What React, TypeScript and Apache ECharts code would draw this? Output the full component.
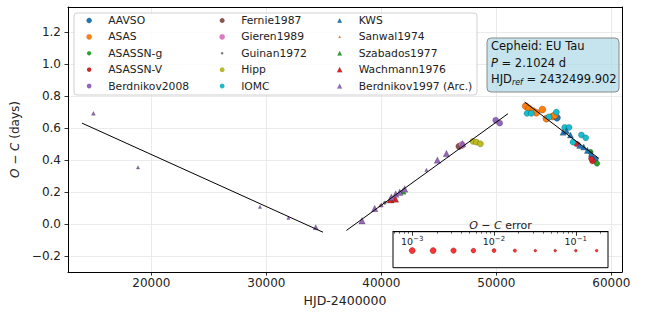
import React, { useEffect, useRef } from "react";
import * as echarts from "echarts";

// ---- axis ticks ----
const xTicks = [20000, 30000, 40000, 50000, 60000];
const yTicks = [-0.2, 0, 0.2, 0.4, 0.6, 0.8, 1.0, 1.2];
const errLegendValues = [0.001, 0.0018, 0.0032, 0.0056, 0.01, 0.018, 0.032, 0.056, 0.1, 0.18];
const errMajorTicks = [-3, -2, -1];

// ---- data: [HJD-2400000, O-C (days), O-C error (days)] ----
const aavso = [[55271, 0.666, 0.002], [58550, 0.403, 0.002]];
const asas = [[52550, 0.738, 0.002], [52837, 0.723, 0.002], [53184, 0.708, 0.002], [53480, 0.697, 0.002], [54002, 0.717, 0.002], [54350, 0.66, 0.002], [54871, 0.673, 0.002], [55071, 0.681, 0.002]];
const asassnG = [[58176, 0.452, 0.006], [58750, 0.38, 0.006]];
const asassnV = [[56958, 0.503, 0.005], [58350, 0.395, 0.005], [58263, 0.411, 0.005]];
const berdnikov2008 = [[49941, 0.65, 0.004], [50289, 0.632, 0.004]];
const fernie1987 = [[46749, 0.487, 0.003]];
const gieren1989 = [[47000, 0.495, 0.002]];
const guinan1972 = [[40300, 0.135, 0.05]];
const hipp = [[47967, 0.518, 0.004], [48263, 0.513, 0.004], [48610, 0.503, 0.004]];
const iomc = [[52663, 0.693, 0.004], [53045, 0.693, 0.004], [54576, 0.671, 0.004], [55219, 0.701, 0.004], [55941, 0.605, 0.004], [56315, 0.605, 0.004], [56663, 0.513, 0.004], [57393, 0.558, 0.004], [57767, 0.54, 0.004]];
const kws = [[55793, 0.575, 0.004], [56089, 0.585, 0.004], [56437, 0.558, 0.004], [57245, 0.493, 0.004], [57593, 0.483, 0.004], [57915, 0.462, 0.004], [58263, 0.442, 0.004]];
const sanwal1974 = [[39900, 0.118, 0.05]];
const szabados1977 = [[41879, 0.207, 0.004]];
const wachmann1976 = [[40800, 0.155, 0.002], [41200, 0.16, 0.002]];
const berdnikov1997 = [[14957, 0.693, 0.02], [18835, 0.356, 0.05], [29444, 0.109, 0.05], [31914, 0.041, 0.05], [34288, -0.018, 0.008], [38314, 0.023, 0.003], [39419, 0.099, 0.003], [40001, 0.121, 0.02], [40871, 0.17, 0.003], [41245, 0.189, 0.003], [41593, 0.201, 0.003], [42027, 0.221, 0.003], [43914, 0.34, 0.03], [44871, 0.401, 0.003], [45654, 0.442, 0.003], [47045, 0.503, 0.003]];

// ---- linear fits (three segments) ----
const fitStartHJD = [13965, 36957, 52461];
const fitEndHJD = [34922, 51009, 58922];
const fitStartOC = [0.632, -0.038, 0.763];
const fitEndOC = [-0.049, 0.691, 0.411];

// ---- info ----
const starName = "EU Tau";
const periodDays = "2.1024";
const hjdRef = "2432499.902";

const FONT = "'DejaVu Sans', sans-serif";
const TXT = "#222";

const sources = [
  { name: "AAVSO", data: aavso, symbol: "circle", color: "#1f77b4" },
  { name: "ASAS", data: asas, symbol: "circle", color: "#ff7f0e" },
  { name: "ASASSN-g", data: asassnG, symbol: "circle", color: "#2ca02c" },
  { name: "ASASSN-V", data: asassnV, symbol: "circle", color: "#d62728" },
  { name: "Berdnikov2008", data: berdnikov2008, symbol: "circle", color: "#9467bd" },
  { name: "Fernie1987", data: fernie1987, symbol: "circle", color: "#8c564b" },
  { name: "Gieren1989", data: gieren1989, symbol: "circle", color: "#e377c2" },
  { name: "Guinan1972", data: guinan1972, symbol: "circle", color: "#7f7f7f" },
  { name: "Hipp", data: hipp, symbol: "circle", color: "#bcbd22" },
  { name: "IOMC", data: iomc, symbol: "circle", color: "#17becf" },
  { name: "KWS", data: kws, symbol: "triangle", color: "#1f77b4" },
  { name: "Sanwal1974", data: sanwal1974, symbol: "triangle", color: "#ff7f0e" },
  { name: "Szabados1977", data: szabados1977, symbol: "triangle", color: "#2ca02c" },
  { name: "Wachmann1976", data: wachmann1976, symbol: "triangle", color: "#d62728" },
  { name: "Berdnikov1997 (Arc.)", data: berdnikov1997, symbol: "triangle", color: "#9467bd" },
];

const sz = (e: number) => Math.max(2.7, Math.min(6, 6 - 2.64 * (Math.log10(e) + 2.75)));
const median = (arr: number[][]) => {
  const s = arr.map((d) => d[2]).sort((a, b) => a - b);
  return s[Math.floor(s.length / 2)];
};

const minorTicks: number[] = [];
[-4, -3, -2, -1].forEach((p) => {
  for (let k = 2; k <= 9; k++) {
    const v = p + Math.log10(k);
    if (v > -3.235 && v < -0.606) minorTicks.push(v);
  }
});

export default function App() {
  const ref = useRef<HTMLDivElement>(null);
  useEffect(() => {
    if (!ref.current) return;
    const chart = echarts.init(ref.current, undefined, { renderer: "svg" });

    const xMin = 12748, xMax = 60922, yMin = -0.298, yMax = 1.357;
    const colX = [89, 222, 339.5];
    const rowY = [20.5, 36.9, 53.3, 69.7, 86.1];

    const legends = sources.map((s, i) => {
      const col = Math.floor(i / 5), row = i % 5;
      const h = sz(median(s.data)) * 0.9;
      return {
        show: true,
        data: [{ name: s.name, icon: s.symbol }],
        selectedMode: false,
        orient: "horizontal",
        left: colX[col] - h / 2,
        top: rowY[row] - 7,
        itemWidth: h,
        itemHeight: h,
        itemGap: 0,
        padding: 0,
        z: 6,
        itemStyle: { color: s.color, borderColor: "rgba(0,0,0,0.25)", borderWidth: 0.3 },
        textStyle: { fontFamily: FONT, fontSize: 10.75, color: TXT, lineHeight: 14, padding: [0, 0, 0, 14 - h / 2] },
      };
    });

    const scatterSeries = sources.map((s) => ({
      type: "scatter",
      name: s.name,
      data: s.data,
      symbol: s.symbol,
      symbolSize: (v: number[]) => sz(v[2]) * 1.2,
      xAxisIndex: 0,
      yAxisIndex: 0,
      itemStyle: { color: s.color, borderColor: "rgba(0,0,0,0.5)", borderWidth: 0.4, opacity: 1 },
      z: 2,
      silent: true,
    }));

    const fitSeries = fitStartHJD.map((x0, i) => ({
      type: "line",
      data: [[x0, fitStartOC[i]], [fitEndHJD[i], fitEndOC[i]]],
      symbol: "none",
      lineStyle: { color: "#000", width: 1 },
      xAxisIndex: 0,
      yAxisIndex: 0,
      z: 3,
      silent: true,
    }));

    const option: any = {
      animation: false,
      backgroundColor: "#fff",
      textStyle: { fontFamily: FONT },
      legend: legends,
      grid: [
        { left: 68, right: 24, top: 7, bottom: 35 },
        { left: 393, top: 231.7, width: 215, height: 36, show: true, backgroundColor: "#fff", borderColor: "#000", borderWidth: 1, z: 5 },
      ],
      xAxis: [
        {
          gridIndex: 0, type: "value", min: xMin, max: xMax, position: "bottom",
          axisLine: { show: true, onZero: false, lineStyle: { color: "#000", width: 1 } },
          axisTick: { show: true, length: 3.5, customValues: xTicks, lineStyle: { color: "#000", width: 0.8 } },
          axisLabel: { customValues: xTicks, margin: 5, fontSize: 12, fontFamily: FONT, color: TXT, formatter: (v: number) => String(Math.round(v)) },
          splitLine: { show: true, lineStyle: { color: "#e6e6e6", width: 0.8 } },
          name: "HJD-2400000", nameLocation: "middle", nameGap: 19,
          nameTextStyle: { fontSize: 12.5, fontFamily: FONT, color: TXT },
        },
        {
          gridIndex: 0, type: "value", min: xMin, max: xMax, position: "top",
          axisLine: { show: true, onZero: false, lineStyle: { color: "#000", width: 1 } },
          axisTick: { show: false }, axisLabel: { show: false }, splitLine: { show: false },
        },
        {
          gridIndex: 1, type: "value", min: -3.235, max: -0.606, position: "top", z: 6,
          axisLine: { show: true, onZero: false, lineStyle: { color: "#000", width: 1 } },
          axisTick: { show: true, inside: true, length: 4, customValues: errMajorTicks, lineStyle: { color: "#000", width: 0.8 } },
          axisLabel: {
            show: true, inside: true, customValues: errMajorTicks, margin: 4,
            fontSize: 9.5, fontFamily: FONT, color: TXT,
            formatter: (v: number) => "10{sup|−" + Math.round(-v) + "}",
            rich: { sup: { fontSize: 7, fontFamily: FONT, color: TXT, padding: [0, 0, 5, 0] } },
          },
          splitLine: { show: false },
          name: "{i|O} − {i|C} error", nameLocation: "middle", nameGap: 0,
          nameTextStyle: { fontSize: 11, fontFamily: FONT, color: TXT, rich: { i: { fontStyle: "italic", fontSize: 11, fontFamily: FONT, color: TXT } } },
        },
        {
          gridIndex: 1, type: "value", min: -3.235, max: -0.606, position: "top", z: 6,
          axisLine: { show: false, onZero: false },
          axisTick: { show: true, inside: true, length: 2, customValues: minorTicks, lineStyle: { color: "#000", width: 0.6 } },
          axisLabel: { show: false }, splitLine: { show: false },
        },
      ],
      yAxis: [
        {
          gridIndex: 0, type: "value", min: yMin, max: yMax,
          axisLine: { show: true, onZero: false, lineStyle: { color: "#000", width: 1 } },
          axisTick: { show: true, length: 3.5, customValues: yTicks, lineStyle: { color: "#000", width: 0.8 } },
          axisLabel: {
            customValues: yTicks, margin: 7, fontSize: 12, fontFamily: FONT, color: TXT,
            formatter: (v: number) => v.toFixed(1).replace("-", "−"),
          },
          splitLine: { show: true, lineStyle: { color: "#e6e6e6", width: 0.8 } },
          name: "{i|O} − {i|C} (days)", nameLocation: "middle", nameGap: 40, nameRotate: 90,
          nameTextStyle: { fontSize: 12, fontFamily: FONT, color: TXT, rich: { i: { fontStyle: "italic", fontSize: 12, fontFamily: FONT, color: TXT } } },
        },
        {
          gridIndex: 0, type: "value", min: yMin, max: yMax, position: "right",
          axisLine: { show: true, onZero: false, lineStyle: { color: "#000", width: 1 } },
          axisTick: { show: false }, axisLabel: { show: false }, splitLine: { show: false },
        },
        { gridIndex: 1, type: "value", min: -0.95, max: 1.05, show: false },
      ],
      graphic: [
        {
          type: "rect", z: 4,
          shape: { x: 74, y: 13, width: 403, height: 82, r: 3 },
          style: { fill: "rgba(255,255,255,0.85)", stroke: "#d0d0d0", lineWidth: 1 },
          silent: true,
        },
        {
          type: "rect", z: 4,
          shape: { x: 487, y: 38, width: 132, height: 54, r: 4 },
          style: { fill: "rgba(173,216,230,0.7)", stroke: "#8a8a8a", lineWidth: 1 },
          silent: true,
        },
        {
          type: "text", z: 5, x: 491, y: 38,
          style: {
            text: "Cepheid: " + starName + "\n{i|P} = " + periodDays + " d\nHJD{sub|ref} = " + hjdRef,
            fontFamily: FONT, fontSize: 11.5, fill: "#111", lineHeight: 16.5,
            verticalAlign: "top", align: "left",
            rich: {
              i: { fontStyle: "italic", fontFamily: FONT, fontSize: 11.5, fill: "#111" },
              sub: { fontStyle: "italic", fontFamily: FONT, fontSize: 8, fill: "#111", padding: [6, 0, 0, 0] },
            },
          },
          silent: true,
        },
      ],
      series: [
        ...scatterSeries,
        ...fitSeries,
        {
          type: "scatter",
          xAxisIndex: 2,
          yAxisIndex: 2,
          data: errLegendValues.map((e) => [Math.log10(e), 0, e]),
          symbolSize: (v: number[]) => sz(v[2]),
          itemStyle: { color: "#ff0000", borderColor: "#7a0000", borderWidth: 0.5 },
          z: 7,
          silent: true,
        },
      ],
    };
    chart.setOption(option);
    return () => chart.dispose();
  }, []);
  return <div ref={ref} style={{ position: "fixed", left: 0, top: 0, width: 646, height: 312 }} />;
}
